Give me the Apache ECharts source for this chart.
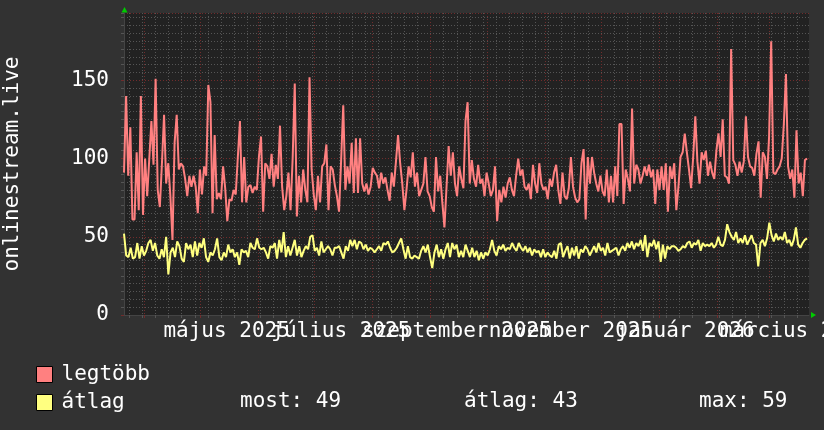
<!DOCTYPE html>
<html><head><meta charset="utf-8">
<script src="https://cdn.jsdelivr.net/npm/echarts@6/dist/echarts.min.js"></script>
<style>html,body{margin:0;padding:0;background:#323232}#c{width:824px;height:430px}</style>
</head><body><div id="c"></div>
<script>
// ---- data ----
const seriesNames = ['legtöbb', 'átlag'];
const maxValues = [91,140,89,120,61,61,104,67,140,64,100,76,100,124,96,151,80,69,97,128,84,97,76,48,110,128,93,97,95,87,76,
89,82,89,82,65,93,77,95,89,147,136,65,115,74,78,74,95,81,60,74,73,80,77,101,124,72,101,72,82,83,78,82,80,101,114,66,97,95,87,103,82,96,87,121,82,67,76,91,67,100,148,63,89,72,93,80,72,152,93,77,67,89,72,95,97,109,67,95,93,83,76,66,99,134,80,95,84,110,78,113,78,113,84,79,84,77,82,94,91,89,81,91,84,88,80,73,91,82,98,115,97,84,67,80,95,88,104,82,91,76,80,84,101,79,76,69,66,101,79,89,72,56,82,108,89,104,84,76,95,87,81,124,136,84,99,87,82,96,84,87,76,91,84,76,80,95,60,80,72,82,75,84,88,80,76,89,100,89,93,82,80,84,74,96,84,78,97,84,80,82,74,87,82,91,96,80,71,91,76,74,81,101,82,75,72,74,97,106,61,101,84,101,91,84,79,89,79,76,93,72,89,72,95,76,122,122,71,93,87,79,132,84,96,93,84,89,95,89,96,88,93,71,93,80,95,80,97,66,95,87,97,67,82,101,104,116,104,93,81,101,127,98,84,104,99,105,89,98,91,87,105,116,101,125,89,88,84,170,99,96,89,98,91,98,127,101,95,94,89,103,111,75,104,101,87,114,175,91,90,93,95,100,122,154,95,87,93,75,118,84,91,76,99,100];
const avgValues = [52,38,37,43,36,37,46,36,44,38,41,46,48,41,46,38,36,42,37,50,26,40,43,37,47,44,36,34,46,42,45,37,47,38,46,43,49,37,34,40,38,42,49,37,35,40,37,45,40,42,37,40,32,42,40,41,37,46,43,42,49,43,42,43,40,36,44,43,46,36,48,40,53,37,44,38,43,48,38,44,37,41,44,42,50,51,41,43,38,47,40,42,44,42,38,43,43,44,40,36,44,41,48,44,48,42,47,46,42,45,41,43,42,40,42,44,41,46,45,47,43,40,41,43,46,49,42,36,44,37,36,38,37,36,41,44,40,45,37,30,40,45,37,42,36,42,46,37,46,42,45,37,41,37,45,41,37,43,37,41,35,40,36,40,38,42,48,41,38,44,42,45,41,43,42,46,43,41,46,43,41,44,40,43,38,42,40,41,37,42,37,40,38,37,41,36,45,46,37,41,44,36,43,38,44,36,42,40,44,42,38,41,44,40,46,41,43,38,46,40,41,42,43,38,42,44,41,46,43,47,42,46,44,48,41,51,37,46,44,48,42,47,34,45,36,44,42,44,44,43,41,42,44,43,46,47,43,46,45,48,41,46,44,45,44,46,43,45,50,45,44,48,58,53,50,48,53,46,49,46,51,45,48,51,46,45,31,46,48,44,49,59,51,47,52,48,50,48,53,46,48,44,48,56,45,43,46,48,49];
const monthStarts = ['2025-04-01','2025-05-01','2025-06-01','2025-07-01','2025-08-01','2025-09-01','2025-10-01','2025-11-01','2025-12-01','2026-01-01','2026-02-01','2026-03-01'];
const labelDates = ['2025-05-15','2025-07-15','2025-09-15','2025-11-15','2026-01-15','2026-03-15'];
const monthLabels = ['május 2025','július 2025','szeptember 2025','november 2025','január 2026','március 2026'];
const firstMonday = '2025-03-24';
const statTexts = ['most: 49', 'átlag: 43', 'max: 59'];
const yMax = 193;
const yTitle = 'onlinestream.live';

// ---- helpers ----
const DAY = 86400000;
function d(s){ const p = s.split('-').map(Number); return new Date(p[0], p[1]-1, p[2]).getTime(); }
const viewStart = new Date(2025, 2, 21, 3, 36).getTime();
const viewEnd = viewStart + 366.05 * DAY;
const dataEnd = viewStart + 365 * DAY;
function toPairs(vals){
  const step = (dataEnd - viewStart) / (vals.length - 1);
  return vals.map((v, i) => [viewStart + i * step, v]);
}
const weekTicks = [];
for (let t = d(firstMonday); t < viewEnd; t += 7 * DAY) weekTicks.push(t);
const monthTicks = monthStarts.map(d);
const labelTicks = labelDates.map(d);
const labelsA = labelTicks.filter((t, i) => i % 2 === 0);
const labelsB = labelTicks.filter((t, i) => i % 2 === 1);

const FONT = '"DejaVu Sans Mono", monospace';
const MINOR = '#555555';
const MAJOR = '#712c2c';
function fmt(v){ const i = labelTicks.indexOf(v); return i >= 0 ? monthLabels[i] : ''; }
function labelAxis(vals){
  return { type: 'value', min: viewStart, max: viewEnd, position: 'bottom', offset: 0, scale: true,
    axisLine: { show: false }, axisTick: { show: false }, splitLine: { show: false },
    axisLabel: { show: true, customValues: vals, color: '#ffffff', fontFamily: FONT, fontSize: 21, margin: 6,
      showMinLabel: true, showMaxLabel: true, hideOverlap: false, formatter: fmt } };
}
const chart = echarts.init(document.getElementById('c'), null, {renderer: 'canvas'});
chart.setOption({
  animation: false,
  backgroundColor: '#323232',
  grid: { left: 124, right: 15, top: 13, bottom: 115, show: true, backgroundColor: '#222222', borderWidth: 0,
          containLabel: false, outerBoundsMode: 'none' },
  legend: {
    data: seriesNames, orient: 'vertical', left: 31, top: 359,
    itemWidth: 16, itemHeight: 16, itemGap: 7, icon: 'rect',
    itemStyle: { borderColor: '#000', borderWidth: 1 },
    textStyle: { color: '#ffffff', fontFamily: FONT, fontSize: 21, padding: [0,0,0,4] },
    selectedMode: false
  },
  xAxis: [
    { type: 'value', min: viewStart, max: viewEnd, position: 'bottom', scale: true,
      axisLine: { show: true, lineStyle: { color: '#444' } },
      axisTick: { show: true, length: 3, customValues: weekTicks, lineStyle: { color: MINOR } },
      axisLabel: { show: false },
      splitLine: { show: true, lineStyle: { color: MINOR, type: [1, 2], width: 1 } } },
    { type: 'value', min: viewStart, max: viewEnd, position: 'bottom', offset: 0, scale: true,
      axisLine: { show: false },
      axisTick: { show: true, length: 3, customValues: monthTicks, lineStyle: { color: MAJOR } },
      axisLabel: { show: false },
      splitLine: { show: true, lineStyle: { color: MAJOR, type: [1, 2], width: 1 } } },
    labelAxis(labelsA),
    labelAxis(labelsB)
  ],
  yAxis: [
    { type: 'value', min: 0, max: yMax, interval: 5, position: 'left',
      axisLine: { show: true, lineStyle: { color: '#444' } },
      axisTick: { show: true, length: 3, lineStyle: { color: MINOR } },
      axisLabel: { show: false },
      splitLine: { show: true, lineStyle: { color: MINOR, type: [1, 2], width: 1 } },
      name: yTitle, nameLocation: 'middle', nameGap: 101, nameRotate: 90,
      nameTextStyle: { color: '#ffffff', fontFamily: FONT, fontSize: 21 } },
    { type: 'value', min: 0, max: yMax, interval: 50, position: 'left', offset: 0,
      axisLine: { show: false },
      axisTick: { show: true, length: 3, lineStyle: { color: MAJOR } },
      axisLabel: { show: true, color: '#ffffff', fontFamily: FONT, fontSize: 21, margin: 15, showMaxLabel: false },
      splitLine: { show: true, lineStyle: { color: MAJOR, type: [1, 2], width: 1 } } }
  ],
  series: [
    { name: seriesNames[0], type: 'line', xAxisIndex: 0, yAxisIndex: 0, data: toPairs(maxValues),
      showSymbol: false, symbol: 'none', color: '#ff8080', lineStyle: { width: 2, color: '#ff8080' }, z: 3 },
    { name: seriesNames[1], type: 'line', xAxisIndex: 0, yAxisIndex: 0, data: toPairs(avgValues),
      showSymbol: false, symbol: 'none', color: '#ffff80', lineStyle: { width: 2, color: '#ffff80' }, z: 4 }
  ]
});
// decorations: arrows, stats texts
const tl = chart.convertToPixel({xAxisIndex: 0, yAxisIndex: 0}, [viewStart, yMax]);
const br = chart.convertToPixel({xAxisIndex: 0, yAxisIndex: 0}, [viewEnd, 0]);
const statX = [240, 464, 699];
chart.setOption({
  graphic: [
    { type: 'polygon', shape: { points: [[tl[0]+0.5, tl[1]-6], [tl[0]-2.5, tl[1]-0.5], [tl[0]+3.5, tl[1]-0.5]] }, style: { fill: '#00cc00' }, z: 10 },
    { type: 'polygon', shape: { points: [[br[0]+7, br[1]], [br[0]+2, br[1]-3], [br[0]+2, br[1]+3]] }, style: { fill: '#00cc00' }, z: 10 }
  ].concat(statTexts.map((t, i) => ({
    type: 'text', left: statX[i], top: 391,
    style: { text: t, fill: '#ffffff', font: '21px ' + FONT }
  })))
});
</script></body></html>
